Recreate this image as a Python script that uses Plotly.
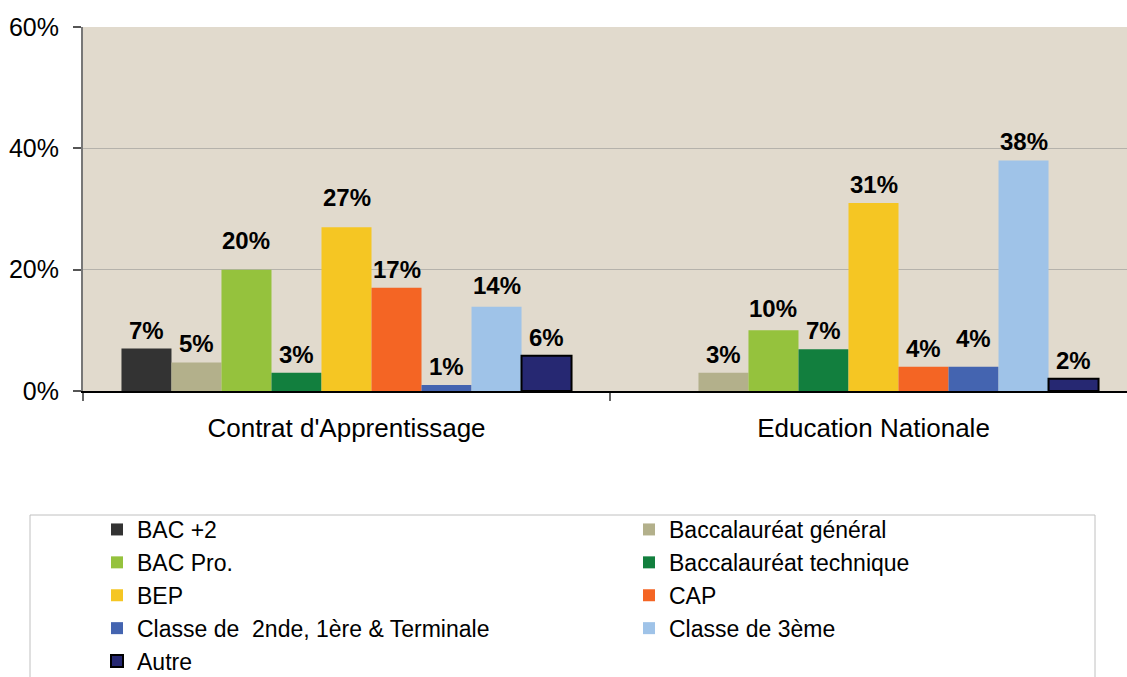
import plotly.graph_objects as go

categories = ["Contrat d'Apprentissage", "Education Nationale"]
series_names = [
    "BAC +2", "Baccalauréat général", "BAC Pro.", "Baccalauréat technique",
    "BEP", "CAP", "Classe de  2nde, 1ère & Terminale", "Classe de 3ème", "Autre",
]
contrat_values = [0.07, 0.047, 0.20, 0.03, 0.27, 0.17, 0.01, 0.139, 0.058]
education_values = [0.0, 0.03, 0.10, 0.069, 0.31, 0.04, 0.04, 0.38, 0.02]
y_ticks = [0, 0.2, 0.4, 0.6]
y_tick_labels = ["0%", "20%", "40%", "60%"]

colors = ["#333333", "#b3b08b", "#95c23d", "#127f3e", "#f5c623",
          "#f46524", "#4464b0", "#9fc3e8", "#262872"]

W, H = 1127, 677
L, T, B = 83, 27, 286
plot_w = W - L
unit_px = 527.0
x_range = [-0.5, -0.5 + plot_w / unit_px]
bargap = 0.146
n = len(series_names)
bar_w = (1 - bargap) / n

FONT = "Liberation Sans, Arial"

fig = go.Figure()
cat_x = list(range(len(categories)))
for i, name in enumerate(series_names):
    vals = [contrat_values[i], education_values[i]]
    fig.add_trace(go.Bar(
        x=cat_x, y=vals, name=name,
        legend="legend" if i % 2 == 0 else "legend2",
        marker=dict(color=colors[i],
                    line=dict(color="#000000" if name == "Autre" else colors[i],
                              width=2 if name == "Autre" else 0)),
        hoverinfo="y+name",
    ))

# data labels
extra_shift = {(0, 2): 11, (0, 4): 11, (1, 6): 10, (0, 7): 3, (1, 2): 3}
annotations = []
for ci, vals in enumerate([contrat_values, education_values]):
    for i, v in enumerate(vals):
        if v <= 0:
            continue
        annotations.append(dict(
            x=ci + (i - (n - 1) / 2) * bar_w, y=v, xref="x", yref="y",
            text=f"{round(v * 100)}%", showarrow=False,
            yanchor="bottom", yshift=3 + extra_shift.get((ci, i), 0),
            font=dict(family=FONT, size=24, color="#000000", weight="bold"),
        ))


def px_to_paper_y(py):
    return (H - B - py) / (H - B - T)


def px_to_paper_x(px):
    return (px - L) / plot_w


legend_common = dict(
    orientation="v",
    xanchor="left", yanchor="top",
    y=px_to_paper_y(508),
    font=dict(size=23, color="#000000", family=FONT),
    bgcolor="rgba(0,0,0,0)", borderwidth=0,
    traceorder="normal",
)

fig.update_layout(
    width=W, height=H,
    margin=dict(l=L, r=0, t=T, b=B, pad=0, autoexpand=False),
    paper_bgcolor="#ffffff",
    plot_bgcolor="#e1dacd",
    barmode="group", bargap=bargap, bargroupgap=0,
    font=dict(family=FONT, color="#000000"),
    annotations=annotations,
    showlegend=True,
    legend=dict(x=px_to_paper_x(97), **legend_common),
    legend2=dict(x=px_to_paper_x(629), **legend_common),
    shapes=[dict(
        type="rect", xref="paper", yref="paper",
        x0=px_to_paper_x(30), x1=px_to_paper_x(1095),
        y0=px_to_paper_y(515), y1=px_to_paper_y(700),
        line=dict(color="#c0c0c0", width=1), fillcolor="rgba(0,0,0,0)", layer="below",
    )],
)

fig.update_xaxes(
    range=x_range, tickvals=cat_x, ticktext=categories,
    ticks="", showgrid=False, zeroline=False,
    showline=True, linecolor="#000000", linewidth=1.5,
    tickfont=dict(size=26, color="#000000"),
    ticklabelstandoff=13,
    minor=dict(tickvals=[-0.5, 0.5], ticks="outside", ticklen=8, tickcolor="#666666", tickwidth=1.5),
)
fig.update_yaxes(
    range=[0, 0.6], tickvals=y_ticks, ticktext=y_tick_labels,
    ticks="outside", ticklen=8, tickcolor="#555555", tickwidth=1.5,
    showgrid=True, gridcolor="#b5b2ab", gridwidth=1,
    zeroline=False, showline=True, linecolor="#777777", linewidth=2,
    tickfont=dict(size=25, color="#000000"),
    ticklabelstandoff=9,
)

fig.write_html(
    "out.html",
    config={"displayModeBar": False},
    post_script="document.body.style.margin='0';document.body.style.overflow='hidden';",
)
